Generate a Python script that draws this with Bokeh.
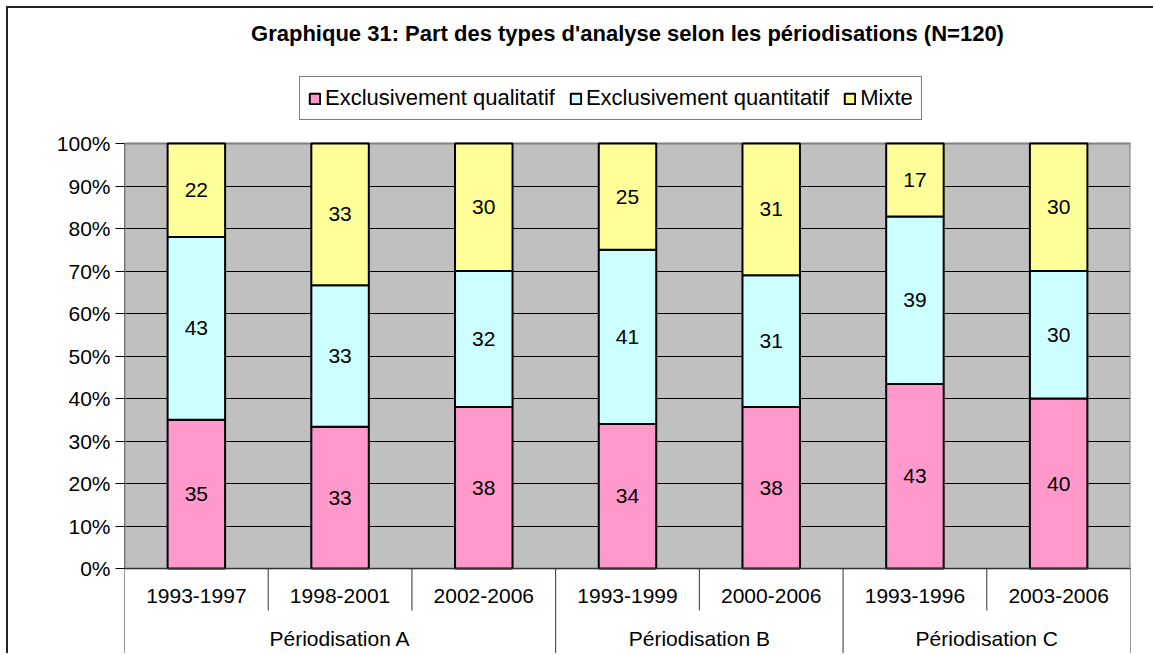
from bokeh.plotting import figure
from bokeh.models import (FactorRange, Range1d, FixedTicker, NumeralTickFormatter,
                          Legend, LegendItem, Span, ColumnDataSource, BoxAnnotation)
from bokeh.core.properties import value
from bokeh.embed import file_html
from bokeh.resources import INLINE

# ---------------- data ----------------
title_text = "Graphique 31: Part des types d'analyse selon les périodisations (N=120)"
groups = ["Périodisation A", "Périodisation A", "Périodisation A",
          "Périodisation B", "Périodisation B",
          "Périodisation C", "Périodisation C"]
periods = ["1993-1997", "1998-2001", "2002-2006", "1993-1999", "2000-2006",
           "1993-1996", "2003-2006"]
series = ["Exclusivement qualitatif", "Exclusivement quantitatif", "Mixte"]
qualitatif = [35, 33, 38, 34, 38, 43, 40]
quantitatif = [43, 33, 32, 41, 31, 39, 30]
mixte = [22, 33, 30, 25, 31, 17, 30]
y_ticks = [0.0, 0.1, 0.2, 0.3, 0.4, 0.5, 0.6, 0.7, 0.8, 0.9, 1.0]

colors = ["#FF99CC", "#CCFFFF", "#FFFF99"]
FONT = "Liberation Sans"

# ---------------- layout (pixels) ----------------
W, H = 1147, 647          # figure size; figure starts at page (8, 8)
FL = 116                  # plot-area left (figure px)
FR = 1122                 # plot-area right
TOP100 = 135              # y of 100% (figure px)
ZERO = 560                # y of 0%
PPU = float(ZERO - TOP100)
y_top = 1 + TOP100 / PPU
y_bottom = -(H - ZERO) / PPU
short_sep = -42 / PPU
sub_label_y = -27 / PPU
grp_label_y = -70 / PPU
title_y = 1 + (TOP100 - 25) / PPU

factors = list(zip(groups, periods))
vals = [qualitatif, quantitatif, mixte]
totals = [a + b + c for a, b, c in zip(*vals)]
shares = [[v / t for v, t in zip(s, totals)] for s in vals]

src = ColumnDataSource(dict(x=factors, s0=shares[0], s1=shares[1], s2=shares[2]))

p = figure(
    x_range=FactorRange(*factors, range_padding=0, group_padding=0,
                        subgroup_padding=0, factor_padding=0),
    y_range=Range1d(y_bottom, y_top),
    width=W, height=H, output_backend="svg", toolbar_location=None,
    x_axis_location=None,
    min_border_left=FL, min_border_right=W - FR, min_border_top=0,
    min_border_bottom=0,
)
p.styles = {"margin-left": "6px", "margin-top": "6px",
            "border-left": "2px solid #222222", "border-top": "2px solid #222222"}
p.outline_line_color = None
p.background_fill_color = None
p.border_fill_color = "white"

# grid
p.xgrid.visible = False
p.ygrid.ticker = FixedTicker(ticks=y_ticks)
p.ygrid.grid_line_color = "black"
p.ygrid.grid_line_width = 1

# gray plot area (0-100%), drawn before the grid lines
plot_area = BoxAnnotation(bottom=0, top=1, fill_color="#C0C0C0", fill_alpha=1.0,
                          line_color=None, line_alpha=0, level="underlay")
p.center = [plot_area] + list(p.center)

first_edge = factors[0] + (-0.5,)
last_edge = factors[-1] + (0.5,)

# plot area outline (gray)
p.quad(left=[first_edge], right=[last_edge], bottom=[0], top=[1],
       fill_color=None, line_color="#808080", line_width=2)

# bars
rs = p.vbar_stack(["s0", "s1", "s2"], x="x", width=0.4, source=src,
                  fill_color=colors, line_color="black", line_width=2)

# data labels
lx, ly, lt = [], [], []
for i, f in enumerate(factors):
    base = 0.0
    for k in range(3):
        h = shares[k][i]
        lx.append(f)
        ly.append(base + h / 2)
        lt.append(str(vals[k][i]))
        base += h
p.text(x=lx, y=ly, text=lt, text_align="center", text_baseline="middle",
       text_font=value(FONT), text_font_size="21px", text_color="black")

# x axis line at 0
p.add_layout(Span(location=0, dimension="width", line_color="#333333", line_width=1))

# category separators and left axis line
sx0, sy0, sy1 = [], [], []
for i, (g, s) in enumerate(factors):
    if i == 0:
        sx0.append((g, s, -0.5)); sy0.append(1.0); sy1.append(y_bottom)
    last_in_group = (i == len(factors) - 1) or (groups[i + 1] != g)
    sx0.append((g, s, 0.5)); sy0.append(0.0)
    sy1.append(y_bottom if last_in_group else short_sep)
p.segment(x0=sx0, y0=sy0, x1=sx0, y1=sy1, line_color="#333333", line_width=1)

# category labels
p.text(x=factors, y=[sub_label_y] * len(factors), text=periods,
       text_align="center", text_baseline="middle",
       text_font=value(FONT), text_font_size="21px", text_color="black")
ugroups = list(dict.fromkeys(groups))
p.text(x=ugroups, y=[grp_label_y] * len(ugroups), text=ugroups,
       text_align="center", text_baseline="middle",
       text_font=value(FONT), text_font_size="21px", text_color="black")

# title (centered over the plot area)
mid = factors[len(factors) // 2]
p.text(x=[mid], y=[title_y], text=[title_text], text_align="center",
       text_baseline="middle", text_font=value(FONT), text_font_size="22px",
       text_font_style="bold", text_color="black")

# y axis
p.yaxis.ticker = FixedTicker(ticks=y_ticks)
p.yaxis.formatter = NumeralTickFormatter(format="0%")
p.yaxis.major_label_text_font = FONT
p.yaxis.major_label_text_font_size = "21px"
p.yaxis.major_label_text_color = "black"
p.yaxis.axis_line_color = None
p.yaxis.major_tick_line_color = "black"
p.yaxis.major_tick_out = 9
p.yaxis.major_tick_in = 0
p.yaxis.minor_tick_line_color = None
p.yaxis.major_label_standoff = 5

# legend (inside the figure frame, above the plot area)
legend = Legend(
    items=[LegendItem(label=series[k], renderers=[rs[k]]) for k in range(3)],
    location=(299 - 8 - FL, 535), orientation="horizontal",
    border_line_color="black", border_line_width=1,
    background_fill_color="white", background_fill_alpha=1.0,
    label_text_font=FONT, label_text_font_size="22px", label_text_color="black",
    glyph_width=13, glyph_height=13, label_standoff=4, spacing=14,
    padding=8, margin=0,
)
p.add_layout(legend)

open("out.html", "w").write(file_html(p, INLINE))
